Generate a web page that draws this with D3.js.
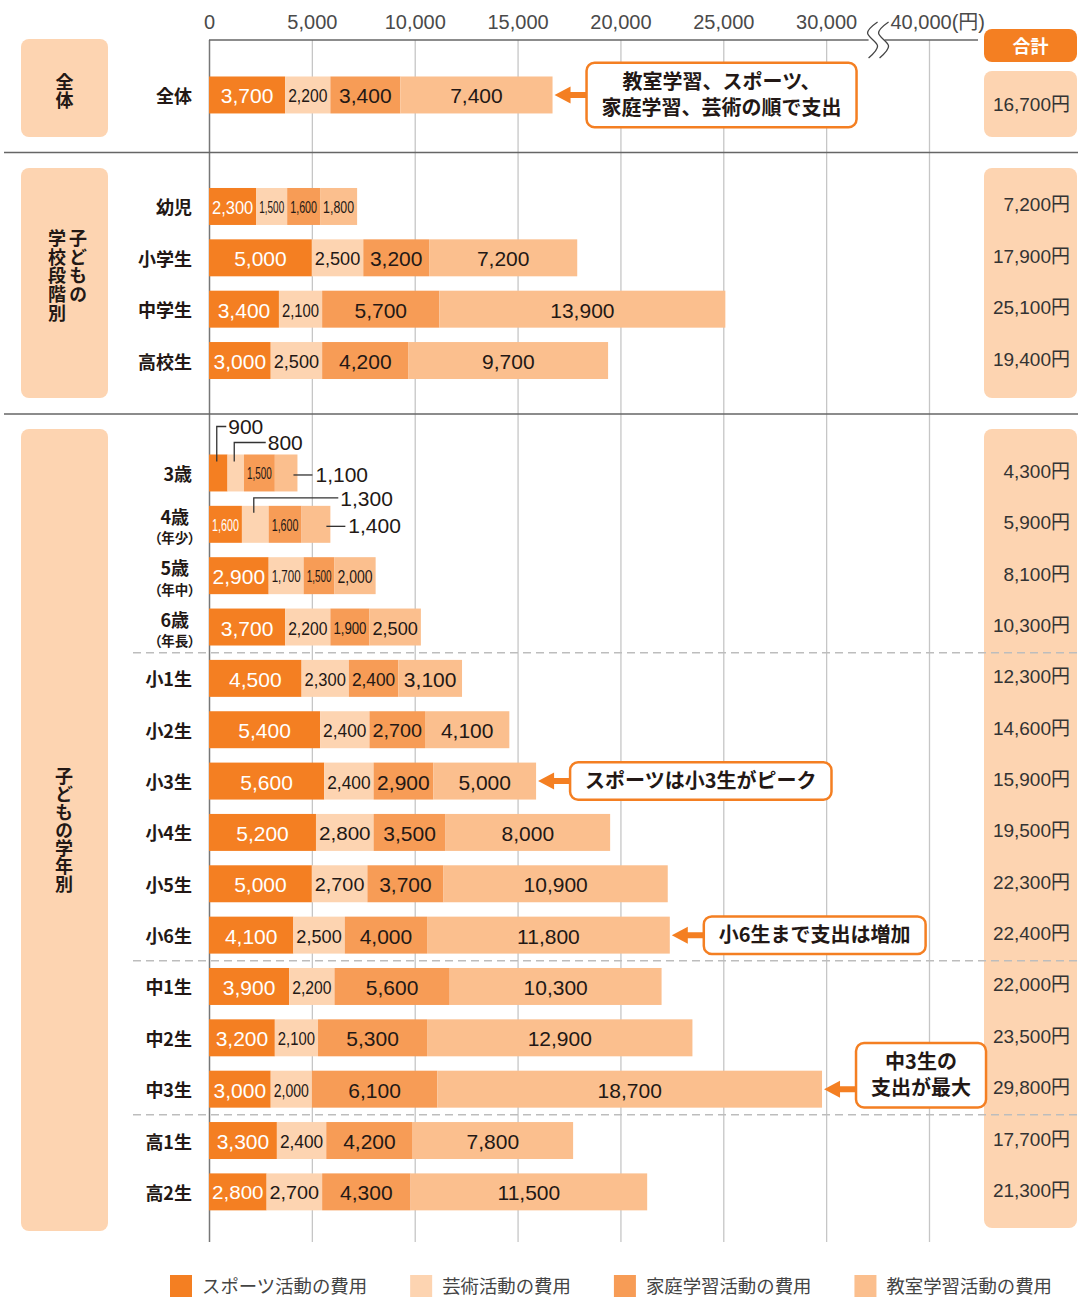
<!DOCTYPE html>
<html lang="ja">
<head>
<meta charset="utf-8">
<title>子どもの学校外教育活動の費用</title>
<script src="https://cdn.jsdelivr.net/npm/d3@7"></script>
<style>
body { margin: 0; background: #fff; }
svg text { font-family: "Liberation Sans", "Noto Sans CJK JP", sans-serif; }
svg text.jp { font-family: "Noto Sans CJK JP", sans-serif; }
</style>
</head>
<body>
<svg id="chart" width="1078" height="1298"></svg>
<script>
// values (円 per month)
const overall = ["全体"];
const stages = ["幼児", "小学生", "中学生", "高校生"];
const grades = ["3歳", "4歳", "5歳", "6歳", "小1生", "小2生", "小3生", "小4生", "小5生", "小6生",
                "中1生", "中2生", "中3生", "高1生", "高2生"];
const gradeNotes = ["", "（年少）", "（年中）", "（年長）"];

const series = ["スポーツ活動の費用", "芸術活動の費用", "家庭学習活動の費用", "教室学習活動の費用"];
//               全体   幼児  小学  中学   高校   3歳  4歳  5歳  6歳  小1  小2  小3  小4  小5   小6   中1   中2   中3   高1  高2
const sports    = [3700, 2300, 5000, 3400, 3000, 900, 1600, 2900, 3700, 4500, 5400, 5600, 5200, 5000, 4100, 3900, 3200, 3000, 3300, 2800];
const arts      = [2200, 1500, 2500, 2100, 2500, 800, 1300, 1700, 2200, 2300, 2400, 2400, 2800, 2700, 2500, 2200, 2100, 2000, 2400, 2700];
const homeStudy = [3400, 1600, 3200, 5700, 4200, 1500, 1600, 1500, 1900, 2400, 2700, 2900, 3500, 3700, 4000, 5600, 5300, 6100, 4200, 4300];
const classes   = [7400, 1800, 7200, 13900, 9700, 1100, 1400, 2000, 2500, 3100, 4100, 5000, 8000, 10900, 11800, 10300, 12900, 18700, 7800, 11500];
const totals    = [16700, 7200, 17900, 25100, 19400, 4300, 5900, 8100, 10300, 12300, 14600, 15900, 19500, 22300, 22400, 22000, 23500, 29800, 17700, 21300];

const tickValues = [0, 5000, 10000, 15000, 20000, 25000, 30000, 35000];
const tickLabels = ["0", "5,000", "10,000", "15,000", "20,000", "25,000", "30,000", "40,000(円)"];

const notes = [
  {cat: "全体", lines: ["教室学習、スポーツ、", "家庭学習、芸術の順で支出"]},
  {cat: "小3生", lines: ["スポーツは小3生がピーク"]},
  {cat: "小6生", lines: ["小6生まで支出は増加"]},
  {cat: "中3生", lines: ["中3生の", "支出が最大"]}
];

const colors = ["#f47f22", "#fdd4b1", "#f79c56", "#fbbf8e"];
const ink = "#231815";
const fmt = d3.format(",");

const svg = d3.select("#chart");

// scales
const x = d3.scaleLinear().domain([0, 35000]).range([209, 929]);
const step = 51.35;
const band = (dom, top) => d3.scaleBand().domain(dom).range([top, top + step * dom.length])
  .paddingInner(0.28).paddingOuter(0.14);
const yAll = band(overall, 69.3);
const yStage = band(stages, 180.8);
const yGrade = band(grades, 447.3);
const bw = yAll.bandwidth();
const yOf = c => overall.includes(c) ? yAll(c) : stages.includes(c) ? yStage(c) : yGrade(c);

const cats = overall.concat(stages, grades);
const table = cats.map((c, i) => ({
  cat: c,
  [series[0]]: sports[i], [series[1]]: arts[i], [series[2]]: homeStudy[i], [series[3]]: classes[i]
}));
const stacked = d3.stack().keys(series)(table);

// group boxes left and right
const boxFill = "#fdd4b1";
const groups = [
  {top: 39, bottom: 137, rTop: 71, rBottom: 137},
  {top: 168, bottom: 398, rTop: 168, rBottom: 398},
  {top: 429, bottom: 1231, rTop: 429, rBottom: 1228}
];
groups.forEach(g => {
  svg.append("rect").attr("x", 21).attr("y", g.top).attr("width", 87).attr("height", g.bottom - g.top)
    .attr("rx", 8).attr("fill", boxFill);
  svg.append("rect").attr("x", 984).attr("y", g.rTop).attr("width", 93).attr("height", g.rBottom - g.rTop)
    .attr("rx", 8).attr("fill", boxFill);
});
svg.append("rect").attr("x", 984).attr("y", 29).attr("width", 93).attr("height", 33)
  .attr("rx", 8).attr("fill", colors[0]);
svg.append("text").attr("class", "jp").attr("x", 1030.5).attr("y", 52.5).attr("text-anchor", "middle")
  .attr("font-size", 18).attr("font-weight", 700).attr("fill", "#fff").text("合計");

// vertical group titles
function vtext(str, cx, yTop, spacing) {
  svg.append("text").attr("class", "jp").attr("x", cx).attr("y", yTop)
    .style("writing-mode", "vertical-rl").style("letter-spacing", spacing + "px")
    .attr("font-size", 18).attr("font-weight", 700).attr("fill", ink).text(str);
}
vtext("全体", 64.5, 73, 0.5);
vtext("子どもの", 78, 229, 0.7);
vtext("学校段階別", 57, 229, 0.7);
vtext("子どもの学年別", 64, 767, 0);

// axis with gridlines
const gAxis = svg.append("g").attr("transform", "translate(0,40)")
  .call(d3.axisTop(x).tickValues(tickValues).tickFormat((d, i) => tickLabels[i])
    .tickSizeInner(-(1242 - 40)).tickSizeOuter(0).tickPadding(11));
gAxis.select(".domain").remove();
gAxis.selectAll(".tick line")
  .attr("stroke", d => d === 0 ? "#777" : "#c6c6c6")
  .attr("stroke-width", d => d === 0 ? 1.5 : 1.3);
gAxis.selectAll(".tick text").attr("font-size", 20).attr("fill", "#4a4a4a")
  .filter(d => d === 35000).attr("text-anchor", "start").attr("x", -39);

svg.append("line").attr("x1", x(0)).attr("x2", x(35000) + 49).attr("y1", 40).attr("y2", 40)
  .attr("stroke", "#666").attr("stroke-width", 1.5);

// axis break
const bx = x(32500) - 11;
svg.append("rect").attr("x", bx + 2).attr("y", 34).attr("width", 16).attr("height", 12).attr("fill", "#fff");
const wave = d3.line().curve(d3.curveCardinal);
[0, 11].forEach(off => {
  svg.append("path")
    .attr("d", wave([[bx + off + 11, 22], [bx + off + 1, 33], [bx + off + 11, 46], [bx + off + 2, 58]]))
    .attr("fill", "none").attr("stroke", "#444").attr("stroke-width", 1.3);
});

// section separators
[152.5, 414].forEach(y => {
  svg.append("line").attr("x1", 4).attr("x2", 1078).attr("y1", y).attr("y2", y)
    .attr("stroke", "#666").attr("stroke-width", 1.5);
});
["小1生", "中1生", "高1生"].forEach(c => {
  const y = yGrade(c) - yGrade.step() * yGrade.paddingInner() / 2;
  svg.append("line").attr("x1", 133).attr("x2", 1078).attr("y1", y).attr("y2", y)
    .attr("stroke", "#bdbdbd").attr("stroke-width", 1.5).attr("stroke-dasharray", "8,5");
});

// category labels
cats.forEach(c => {
  const cy = yOf(c) + bw / 2;
  const gi = grades.indexOf(c);
  const note = gi >= 0 ? gradeNotes[gi] : "";
  svg.append("text").attr("class", "jp").attr("x", note ? 189 : 192).attr("y", note ? cy - 8.5 : cy)
    .attr("text-anchor", "end").attr("dominant-baseline", "central")
    .attr("font-size", 18).attr("font-weight", 700).attr("fill", ink).text(c);
  if (note) {
    svg.append("text").attr("class", "jp").attr("x", 195).attr("y", cy + 13)
      .attr("text-anchor", "end").attr("dominant-baseline", "central")
      .style("font-feature-settings", "'palt'")
      .attr("font-size", 13.5).attr("font-weight", 700).attr("fill", ink).text(note);
  }
});

// totals column
cats.forEach((c, i) => {
  const cy = overall.includes(c) ? (groups[0].rTop + groups[0].rBottom) / 2 : yOf(c) + bw / 2 - 2;
  svg.append("text").attr("x", 1070).attr("y", cy + 7).attr("text-anchor", "end")
    .attr("font-size", 19).attr("fill", "#333").text(fmt(totals[i]) + "円");
});

// stacked bars
stacked.forEach((s, si) => {
  svg.append("g").selectAll("rect").data(s).join("rect")
    .attr("x", d => x(d[0]))
    .attr("y", d => yOf(d.data.cat))
    .attr("width", d => x(d[1]) - x(d[0]))
    .attr("height", bw)
    .attr("fill", colors[si]);
});

// thin segments of 3歳 / 4歳 get leader labels
const leaderRules = {
  "3歳|0": {up: 28, dx: 10},
  "3歳|1": {up: 12, dx: 32},
  "3歳|3": {right: true},
  "4歳|1": {up: 8, dx: 85},
  "4歳|3": {right: true}
};
const gLab = svg.append("g");
stacked.forEach((s, si) => {
  s.forEach(d => {
    const v = d[1] - d[0];
    const x0 = x(d[0]), x1 = x(d[1]), w = x1 - x0;
    const top = yOf(d.data.cat), cy = top + bw / 2;
    const rule = leaderRules[d.data.cat + "|" + si];
    if (rule && rule.right) {
      gLab.append("line").attr("x1", x1 - 4).attr("x2", x1 + 15).attr("y1", cy + 2).attr("y2", cy + 2)
        .attr("stroke", "#333").attr("stroke-width", 1.3);
      gLab.append("text").attr("x", x1 + 18).attr("y", cy + 9).attr("font-size", 21).attr("fill", ink).text(fmt(v));
    } else if (rule) {
      const lx = (x0 + x1) / 2 - 1.5, ly = top - rule.up, tx = (x0 + x1) / 2 + rule.dx;
      gLab.append("path").attr("d", `M${lx},${top + 7}V${ly}H${tx - 2}`)
        .attr("fill", "none").attr("stroke", "#333").attr("stroke-width", 1.3);
      gLab.append("text").attr("x", tx).attr("y", ly + 8).attr("font-size", 21).attr("fill", ink).text(fmt(v));
    } else {
      const t = gLab.append("text").attr("x", 0).attr("y", 8.5)
        .attr("transform", `translate(${(x0 + x1) / 2},${cy})`)
        .attr("text-anchor", "middle").attr("font-size", 21)
        .attr("fill", si === 0 ? "#fff" : ink).text(fmt(v));
      const nat = t.node().getComputedTextLength();
      if (nat > w - 6) {
        // narrow segment: smaller figure squeezed horizontally
        const fs = w < 40 ? 17 : 19;
        t.attr("font-size", fs).attr("y", w < 40 ? 6.5 : 7.5);
        const sx = (w - 6) / t.node().getComputedTextLength();
        t.attr("transform", `translate(${(x0 + x1) / 2},${cy}) scale(${sx},1)`);
      }
    }
  });
});

// callouts
const noteShift = {"中3生": -14};
notes.forEach(n => {
  const i = cats.indexOf(n.cat);
  const cy = yOf(n.cat) + bw / 2;
  const tip = x(totals[i]) + 2;
  const boxX = tip + 32;
  const bcy = cy + (noteShift[n.cat] || 0);
  const g = svg.append("g");
  const txt = g.append("text").attr("class", "jp").attr("font-size", 20)
    .attr("font-weight", 700).attr("fill", ink).attr("text-anchor", "middle");
  const spans = n.lines.map((l, k) => txt.append("tspan")
    .attr("y", bcy + (k - (n.lines.length - 1) / 2) * 26 + 7).text(l));
  const tw = d3.max(spans, s => s.node().getComputedTextLength());
  const bwid = tw + 30, bh = 27 * n.lines.length + 10.5;
  spans.forEach(s => s.attr("x", boxX + bwid / 2));
  g.insert("path", "text")
    .attr("d", `M${tip},${cy}L${tip + 16},${cy - 8.5}V${cy - 3}H${boxX + 2}V${cy + 3}H${tip + 16}V${cy + 8.5}Z`)
    .attr("fill", colors[0]);
  g.insert("rect", "text").attr("x", boxX).attr("y", bcy - bh / 2).attr("width", bwid).attr("height", bh)
    .attr("rx", 8).attr("fill", "#fff").attr("stroke", colors[0]).attr("stroke-width", 2.5);
});

// legend
let lx = 170;
series.forEach((s, i) => {
  svg.append("rect").attr("x", lx).attr("y", 1275).attr("width", 22).attr("height", 22).attr("fill", colors[i]);
  const t = svg.append("text").attr("class", "jp").attr("x", lx + 32).attr("y", 1285)
    .attr("dominant-baseline", "central").attr("font-size", 18.4).attr("fill", "#444").text(s);
  lx += 32 + t.node().getComputedTextLength() + 43;
});
</script>
</body>
</html>
